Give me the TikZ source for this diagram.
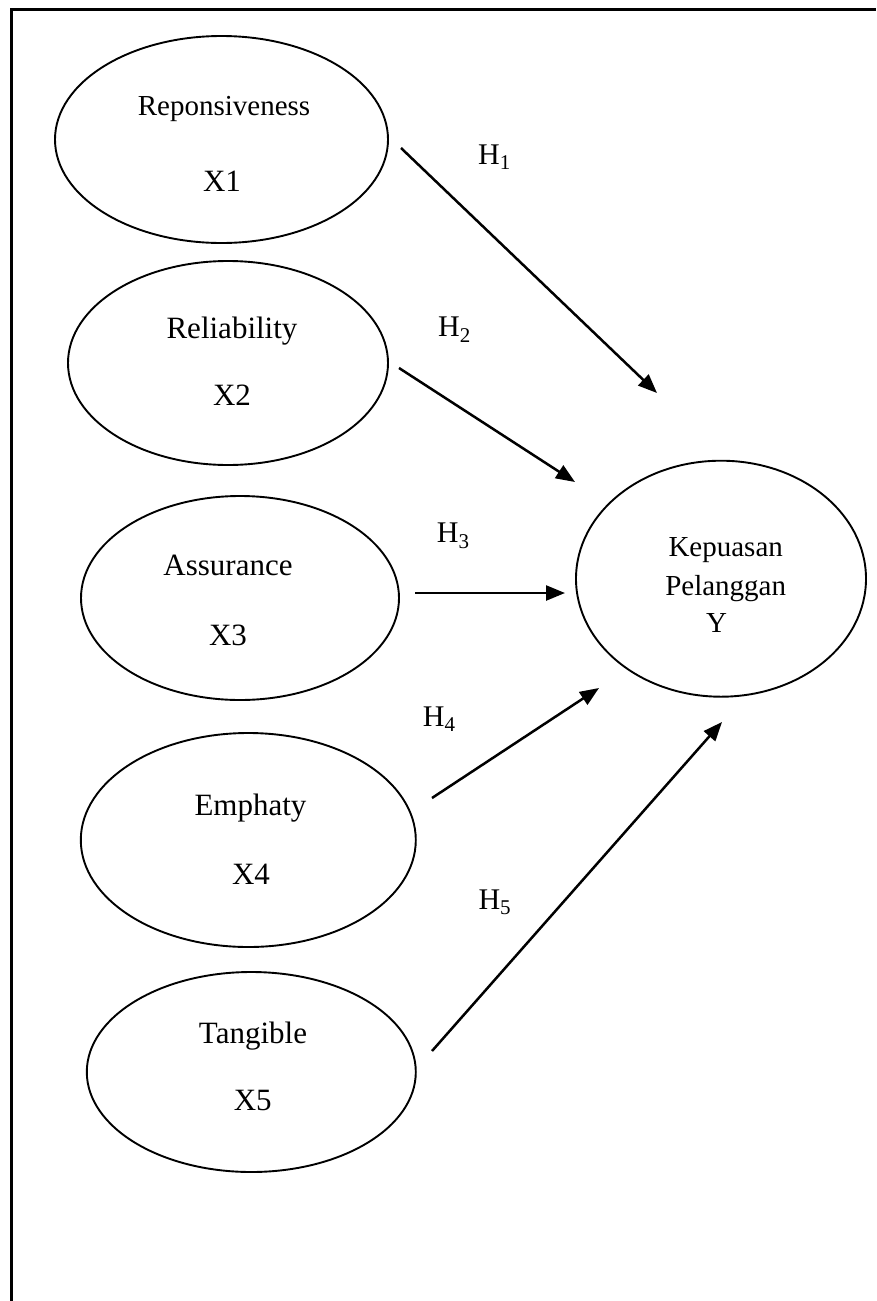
\documentclass[tikz,border=0pt]{standalone}
\usepackage{fontspec}
\setmainfont{Liberation Serif}
\usetikzlibrary{shapes.geometric,arrows.meta}
\begin{document}
\begin{tikzpicture}[x=1pt,y=-1pt,
  oval/.style={draw,ellipse,line width=1.9pt,inner sep=0pt},
  lbl/.style={anchor=base,inner sep=0pt,font=\fontsize{31}{36}\selectfont},
  lbls/.style={anchor=base,inner sep=0pt,font=\fontsize{29}{34}\selectfont},
  hlbl/.style={anchor=base west,inner sep=0pt,font=\fontsize{30}{36}\selectfont},
  arr/.style={line width=2.5pt,-{Triangle[length=19pt,width=15pt]}}]
\useasboundingbox (0,0) rectangle (876,1301);
% frame (top and left only)
\draw[line width=3pt] (11,1301) -- (11,9) -- (876,9);
% ellipses
\node[oval,minimum width=333pt,minimum height=207pt] (e1) at (221.5,139.5) {};
\node[oval,minimum width=320pt,minimum height=204pt] (e2) at (228,363) {};
\node[oval,minimum width=318pt,minimum height=204pt] (e3) at (240,598) {};
\node[oval,minimum width=335pt,minimum height=214pt] (e4) at (248.3,840) {};
\node[oval,minimum width=329pt,minimum height=200pt] (e5) at (251.3,1072) {};
\node[oval,minimum width=290pt,minimum height=236pt] (ey) at (721,578.7) {};
% texts
\node[lbls] (t1) at (224,115) {Reponsiveness};
\node[lbl] (x1) at (222,191.7) {X1};
\node[lbl] (t2) at (232,338) {Reliability};
\node[lbl] (x2) at (232,405) {X2};
\node[lbl] (t3) at (228,575) {Assurance};
\node[lbl] (x3) at (228,645) {X3};
\node[lbl] (t4) at (250.5,815) {Emphaty};
\node[lbl] (x4) at (251,884) {X4};
\node[lbl] (t5) at (253,1043) {Tangible};
\node[lbl] (x5) at (252.7,1110.7) {X5};
\node[lbls] (ty1) at (725.7,556.7) {Kepuasan};
\node[lbls] (ty2) at (725.7,595) {Pelanggan};
\node[lbls] (ty3) at (716.7,632.7) {Y};
% arrow end points
\coordinate (a1s) at (401,148);  \coordinate (a1e) at (657,393);
\coordinate (a2s) at (399,368);  \coordinate (a2e) at (575,482);
\coordinate (a3s) at (415,593);  \coordinate (a3e) at (565,593);
\coordinate (a4s) at (432,798);  \coordinate (a4e) at (599,688);
\coordinate (a5s) at (432,1051); \coordinate (a5e) at (722,722);
\draw[arr] (a1s) -- (a1e);
\draw[arr] (a2s) -- (a2e);
\draw[arr] (a3s) -- (a3e);
\draw[arr] (a4s) -- (a4e);
\draw[arr] (a5s) -- (a5e);
% hypothesis labels
\node[hlbl] (h1) at (478,164) {H\textsubscript{1}};
\node[hlbl] (h2) at (438,336.7) {H\textsubscript{2}};
\node[hlbl] (h3) at (436.7,542.7) {H\textsubscript{3}};
\node[hlbl] (h4) at (422.7,726.7) {H\textsubscript{4}};
\node[hlbl] (h5) at (478.3,909.3) {H\textsubscript{5}};
\end{tikzpicture}
\end{document}
